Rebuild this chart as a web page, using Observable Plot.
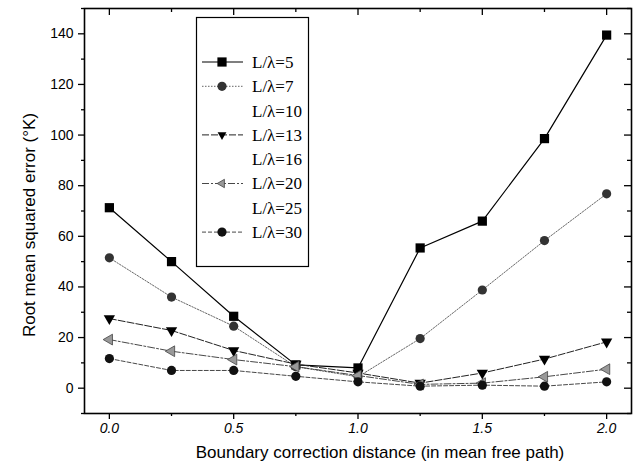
<!DOCTYPE html>
<html><head><meta charset="utf-8">
<script src="https://cdn.jsdelivr.net/npm/d3@7"></script>
<script src="https://cdn.jsdelivr.net/npm/@observablehq/plot@0.6"></script>
<style>
body{margin:0;background:#fff}
#chart{position:relative;width:634px;height:476px}
</style>
</head><body><div id="chart"></div>
<script>
// ---- data ----
const distances = [0, 0.25, 0.5, 0.75, 1.0, 1.25, 1.5, 1.75, 2.0];
const legendLabels = ["L/λ=5","L/λ=7","L/λ=10","L/λ=13","L/λ=16","L/λ=20","L/λ=25","L/λ=30"];
const plottedSeries = ["L/λ=5","L/λ=7","L/λ=13","L/λ=20","L/λ=30"];
const rmsL5  = [71.3, 50.0, 28.4, 9.2, 8.0, 55.4, 66.0, 98.6, 139.5];
const rmsL7  = [51.5, 36.0, 24.5, 8.5, 4.5, 19.6, 38.8, 58.3, 76.8];
const rmsL13 = [27.5, 22.8, 14.9, 9.5, 6.0, 2.0, 6.0, 11.5, 18.3];
const rmsL20 = [19.2, 14.6, 11.3, 8.5, 5.0, 1.5, 2.0, 4.5, 7.5];
const rmsL30 = [11.7, 7.0, 7.0, 4.7, 2.5, 0.8, 1.2, 0.8, 2.5];
const yMajor = [0, 20, 40, 60, 80, 100, 120, 140];
const yMinor = [-10, 10, 30, 50, 70, 90, 110, 130, 150];
const xMajor = [0, 0.5, 1.0, 1.5, 2.0];
const xMinor = [0.25, 0.75, 1.25, 1.75];
const xLabel = "Boundary correction distance (in mean free path)";
const yLabel = "Root mean squared error (°K)";

const valuesBySeries = {"L/λ=5": rmsL5, "L/λ=7": rmsL7, "L/λ=13": rmsL13, "L/λ=20": rmsL20, "L/λ=30": rmsL30};
const styles = {
  "L/λ=5":  {symbol: "square",   rotate: 0,   fill: "#000", stroke: "#000", dash: null,      lw: 1.2, r: 5.2},
  "L/λ=7":  {symbol: "circle",   rotate: 0,   fill: "#333", stroke: "#555", dash: "1.5,1.5", lw: 0.9, r: 4.6},
  "L/λ=13": {symbol: "triangle", rotate: 180, fill: "#000", stroke: "#222", dash: "7,2",     lw: 1,   r: 4.2},
  "L/λ=20": {symbol: "triangle", rotate: -90, fill: "#999", stroke: "#333", dash: "7,2,2,2", lw: 0.9, r: 4.0},
  "L/λ=30": {symbol: "circle",   rotate: 0,   fill: "#111", stroke: "#333", dash: "4,2",     lw: 0.9, r: 4.6}
};

const rows = plottedSeries.flatMap(s => valuesBySeries[s].map((v, i) => ({series: s, x: distances[i], y: v})));

const W = 634, H = 476, mL = 84, mR = 3, mT = 8, mB = 63;
const innerW = W - mL - mR, innerH = H - mT - mB;

const marks = [];
for (const s of plottedSeries) {
  const st = styles[s];
  const d = rows.filter(r => r.series === s);
  marks.push(Plot.line(d, {x: "x", y: "y", stroke: st.stroke, strokeWidth: st.lw, strokeDasharray: st.dash}));
}
for (const s of plottedSeries) {
  const st = styles[s];
  const d = rows.filter(r => r.series === s);
  marks.push(Plot.dot(d, {x: "x", y: "y", symbol: () => st.symbol, rotate: st.rotate, fill: st.fill, stroke: st.fill === "#999" ? "#444" : "none", strokeWidth: 0.8, r: st.r}));
}

const chart = Plot.plot({
  width: W, height: H,
  marginLeft: mL, marginRight: mR, marginTop: mT, marginBottom: mB,
  style: {fontFamily: "'Liberation Sans', Arial, sans-serif", fontSize: "14px", color: "#000", background: "#fff"},
  x: {domain: [-0.1, 2.1]},
  y: {domain: [-10, 150]},
  symbol: {type: "identity"},
  marks: [
    Plot.axisY({ticks: yMajor, tickSize: 6, tickPadding: 5, label: null, fontSize: 14, strokeWidth: 1.3}),
    Plot.axisY({ticks: yMinor, tickSize: 3, text: null, label: null, strokeWidth: 1.3}),
    Plot.axisX({ticks: xMajor, tickSize: 6, tickPadding: 4, tickFormat: d3.format(".1f"), label: null, fontSize: 14, fontStyle: "italic", strokeWidth: 1.3}),
    Plot.axisX({ticks: xMinor, tickSize: 3, text: null, label: null, strokeWidth: 1.3}),
    Plot.tickX(xMajor, {x: d => d, insetBottom: innerH - 7, strokeWidth: 1.3}),
    Plot.tickX(xMinor, {x: d => d, insetBottom: innerH - 4, strokeWidth: 1.3}),
    Plot.tickY(yMajor, {y: d => d, insetLeft: innerW - 7, strokeWidth: 1.3}),
    Plot.tickY(yMinor, {y: d => d, insetLeft: innerW - 4, strokeWidth: 1.3}),
    Plot.frame({stroke: "#000", strokeWidth: 1.6}),
    ...marks,
    Plot.text([xLabel], {frameAnchor: "bottom", dy: 44, dx: 22, text: d => d, fontSize: 17, fill: "#000", textAnchor: "middle"}),
    Plot.text([yLabel], {frameAnchor: "left", dx: -55, dy: 14, rotate: -90, text: d => d, fontSize: 17, fill: "#000", textAnchor: "middle"})
  ]
});
document.getElementById("chart").appendChild(chart);

// ---- legend (inside the plot area, as in the reference) ----
const svg = d3.select(chart);
const lg = svg.append("g").attr("class", "legend");
lg.append("rect").attr("x", 196.5).attr("y", 17.5).attr("width", 112).attr("height", 249)
  .attr("fill", "#fff").attr("stroke", "#000").attr("stroke-width", 1.2);
const symMap = {square: d3.symbolSquare, circle: d3.symbolCircle, triangle: d3.symbolTriangle2};
legendLabels.forEach((lab, i) => {
  const y = 62 + i * 24.3;
  const st = styles[lab];
  if (st) {
    lg.append("line").attr("x1", 202).attr("x2", 243).attr("y1", y).attr("y2", y)
      .attr("stroke", st.stroke).attr("stroke-width", st.lw).attr("stroke-dasharray", st.dash);
    lg.append("path").attr("d", d3.symbol(symMap[st.symbol], Math.PI * st.r * st.r)())
      .attr("transform", `translate(222,${y}) rotate(${st.rotate})`)
      .attr("fill", st.fill).attr("stroke", st.fill === "#999" ? "#444" : "none").attr("stroke-width", 0.8);
  }
  lg.append("text").attr("x", 252).attr("y", y).attr("dy", "0.35em")
    .attr("text-anchor", "start")
    .attr("font-family", "'Liberation Serif', 'Times New Roman', serif").attr("font-size", 17)
    .attr("fill", "#000").text(lab);
});
</script>
</body></html>
